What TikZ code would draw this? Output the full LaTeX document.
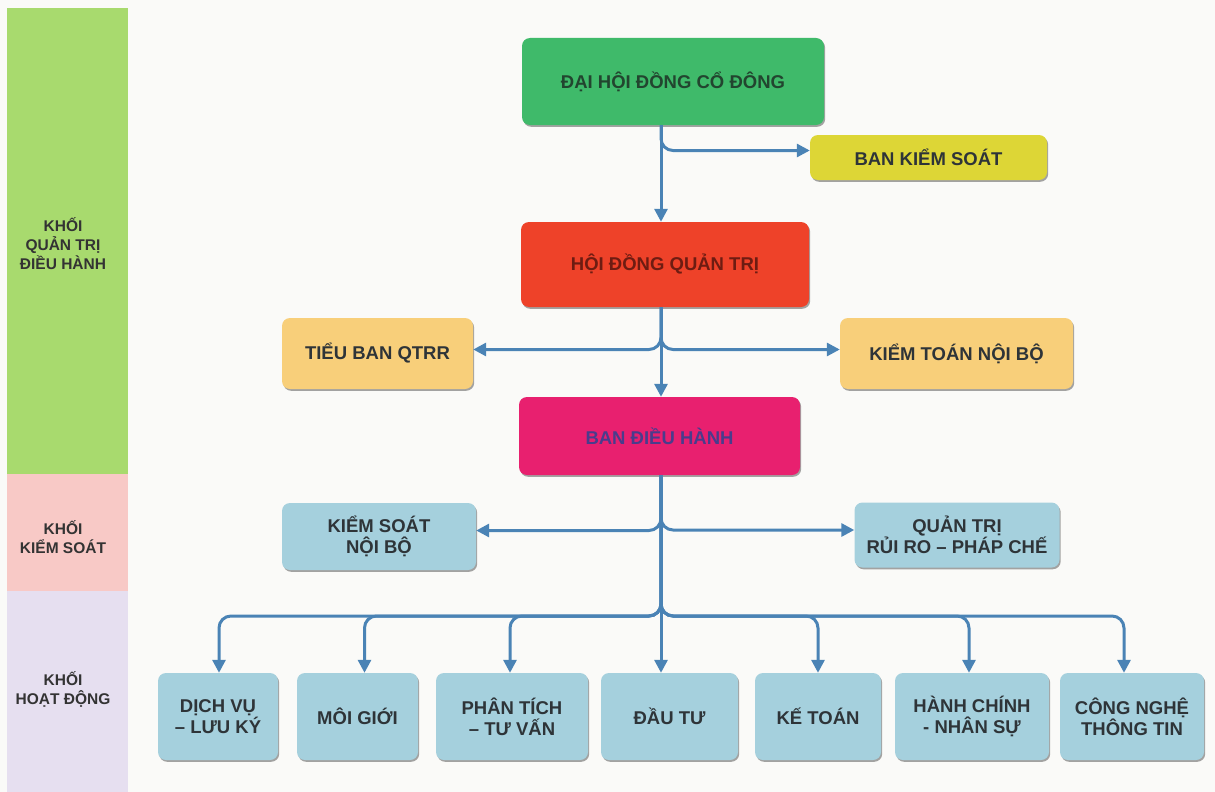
\documentclass[tikz,border=0pt]{standalone}
\usepackage{fontspec}
\setmainfont{Liberation Sans}
\usetikzlibrary{arrows.meta,shadows}
\definecolor{bgc}{HTML}{FAFAF8}
\definecolor{bandG}{HTML}{A8DA6E}
\definecolor{bandP}{HTML}{F8C9C6}
\definecolor{bandV}{HTML}{E6DFF0}
\definecolor{bandT}{HTML}{333333}
\definecolor{cG}{HTML}{3FBA6A}
\definecolor{tG}{HTML}{22452F}
\definecolor{cY}{HTML}{DDD636}
\definecolor{cR}{HTML}{EE4229}
\definecolor{tR}{HTML}{6E1C12}
\definecolor{cO}{HTML}{F8CF7A}
\definecolor{cM}{HTML}{E8206F}
\definecolor{tM}{HTML}{4A3C8C}
\definecolor{cB}{HTML}{A5D0DD}
\definecolor{txt}{HTML}{2E3438}
\definecolor{ln}{HTML}{4A83B5}
\tikzset{
  box/.style={rounded corners=8pt, align=center, inner sep=3pt, text=txt,
    font=\bfseries\fontsize{18.5}{21}\selectfont,
    drop shadow={shadow xshift=1.2pt, shadow yshift=-1.8pt, opacity=0.35, fill=black}},
  conn/.style={draw=ln, line width=3pt, rounded corners=12pt,
    -{Triangle[length=13pt,width=13pt]}},
  bandlabel/.style={font=\bfseries\fontsize{15.5}{19}\selectfont, text=bandT, align=center}
}
\begin{document}
\begin{tikzpicture}[x=1pt,y=-1pt]
\useasboundingbox (0,0) rectangle (1215,792);
\fill[bgc] (0,0) rectangle (1215,792);
% left bands
\fill[bandG] (7,8) rectangle (128,474);
\fill[bandP] (7,474) rectangle (128,591);
\fill[bandV] (7,591) rectangle (128,792);
\node[bandlabel] (l1) at (63,244) {KHỐI\\QUẢN TRỊ\\ĐIỀU HÀNH};
\node[bandlabel] (l2) at (63,537) {KHỐI\\KIỂM SOÁT};
\node[bandlabel] (l3) at (63,689) {KHỐI\\HOẠT ĐỘNG};
% nodes
\node[box, fill=cG, text=tG, minimum width=302pt, minimum height=87pt] (dh) at (673,81.5) {ĐẠI HỘI ĐỒNG CỔ ĐÔNG};
\node[box, fill=cY, minimum width=237pt, minimum height=45pt] (bks) at (928.5,157.5) {BAN KIỂM SOÁT};
\node[box, fill=cR, text=tR, minimum width=288pt, minimum height=85pt] (hd) at (665,264.5) {HỘI ĐỒNG QUẢN TRỊ};
\node[box, fill=cO, minimum width=191pt, minimum height=71pt] (tb) at (377.5,353.5) {TIỂU BAN QTRR};
\node[box, fill=cO, minimum width=233pt, minimum height=71pt] (kt) at (956.5,353.5) {KIỂM TOÁN NỘI BỘ};
\node[box, fill=cM, text=tM, minimum width=281pt, minimum height=78pt] (bdh) at (659.5,436) {BAN ĐIỀU HÀNH};
\node[box, fill=cB, minimum width=194pt, minimum height=67pt] (ks) at (379,536.5) {KIỂM SOÁT\\NỘI BỘ};
\node[box, fill=cB, minimum width=205pt, minimum height=65pt] (qt) at (957,535) {QUẢN TRỊ\\RỦI RO – PHÁP CHẾ};
\node[box, fill=cB, minimum width=120pt, minimum height=87pt] (dv) at (218,716.5) {DỊCH VỤ\\– LƯU KÝ};
\node[box, fill=cB, minimum width=121pt, minimum height=87pt] (mg) at (357.5,716.5) {MÔI GIỚI};
\node[box, fill=cB, minimum width=152pt, minimum height=87pt] (pt) at (512,716.5) {PHÂN TÍCH\\– TƯ VẤN};
\node[box, fill=cB, minimum width=137pt, minimum height=87pt] (dt) at (669.5,716.5) {ĐẦU TƯ};
\node[box, fill=cB, minimum width=126pt, minimum height=87pt] (kto) at (818,716.5) {KẾ TOÁN};
\node[box, fill=cB, minimum width=154pt, minimum height=87pt] (hc) at (972,716.5) {HÀNH CHÍNH\\- NHÂN SỰ};
\node[box, fill=cB, minimum width=144pt, minimum height=87pt] (cn) at (1132,716.5) {CÔNG NGHỆ\\THÔNG TIN};
% connectors
\coordinate (tr) at (661,0);
\coordinate (bus) at (661,616);
\draw[conn] (dh.south -| tr) -- (hd.north -| tr);
\draw[conn] (dh.south -| tr) |- ([yshift=7pt]bks.west);
\draw[conn] (hd.south -| tr) |- ([yshift=4pt]tb.east);
\draw[conn] (hd.south -| tr) |- ([yshift=4pt]kt.west);
\draw[conn] (hd.south -| tr) -- (bdh.north -| tr);
\draw[conn] (bdh.south -| tr) |- ([yshift=6pt]ks.east);
\draw[conn] (bdh.south -| tr) |- ([yshift=5pt]qt.west);
\draw[conn] (bdh.south -| tr) -- (bus) -| ([xshift=1pt]dv.north);
\draw[conn] (bdh.south -| tr) -- (bus) -| ([xshift=7pt]mg.north);
\draw[conn] (bdh.south -| tr) -- (bus) -| ([xshift=-2pt]pt.north);
\draw[conn] (bdh.south -| tr) -- (dt.north -| tr);
\draw[conn] (bdh.south -| tr) -- (bus) -| (kto.north);
\draw[conn] (bdh.south -| tr) -- (bus) -| ([xshift=-3pt]hc.north);
\draw[conn] (bdh.south -| tr) -- (bus) -| ([xshift=-8pt]cn.north);
\end{tikzpicture}
\end{document}
